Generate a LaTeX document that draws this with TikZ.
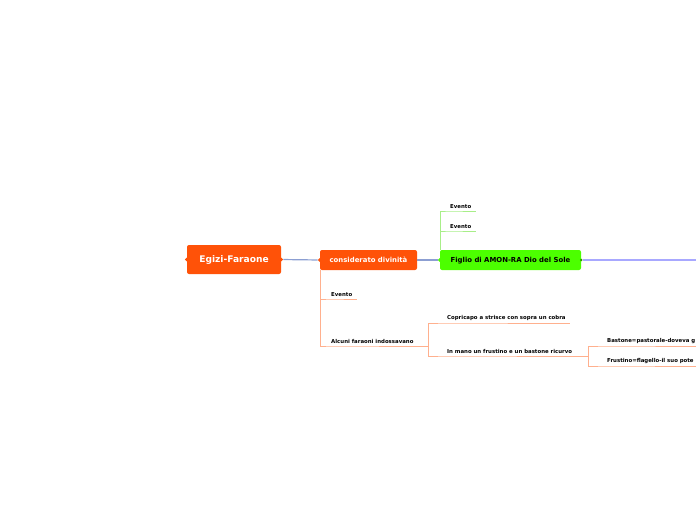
\documentclass[tikz,border=0pt]{standalone}
\usepackage{fontspec}
\setmainfont{DejaVu Sans}
\usetikzlibrary{shapes.geometric}
\definecolor{faraone}{HTML}{FF5208}
\definecolor{amon}{HTML}{4CFF00}
\definecolor{linkblue}{HTML}{8C9FD2}
\definecolor{lavender}{HTML}{A8A8FF}
\definecolor{salmon}{HTML}{FFB08E}
\definecolor{lightgreen}{HTML}{A8EE88}
\begin{document}
\begin{tikzpicture}[x=1pt,y=-1pt,
    root/.style={fill=faraone,rounded corners=2pt,text=white,text depth=0pt,
      font=\bfseries\fontsize{9.1}{10}\selectfont,minimum width=94pt,minimum height=29pt},
    main/.style={fill=faraone,rounded corners=2pt,text=white,text depth=0pt,
      font=\bfseries\fontsize{6.9}{8}\selectfont,minimum height=20pt},
    topic/.style={font=\bfseries\fontsize{5.4}{6}\selectfont,anchor=south west,
      inner xsep=0pt,inner ysep=2.2pt},
    notch/.style={diamond,inner sep=0pt,minimum size=4pt},
    link/.style={draw=linkblue,line width=1.2pt},
    oline/.style={draw=salmon,line width=0.8pt},
    gline/.style={draw=lightgreen,line width=0.8pt}]
    \clip (0,0) rectangle (696,520);
    \node[root] (egizi) at (234,259.5) {Egizi-Faraone};
    \node[main,minimum width=97pt] (divin) at (368.5,260) {considerato divinità};
    \node[main,fill=amon,text=black,minimum width=141pt] (figlio) at (510.5,260) {Figlio di AMON-RA Dio del Sole};
    \node[notch,fill=faraone] (n1) at (egizi.west) {};
    \node[notch,fill=faraone] (n2) at (egizi.east) {};
    \node[notch,fill=faraone] (n3) at (divin.west) {};
    \node[notch,fill=amon] (n4) at (figlio.west) {};
    \node[notch,fill=amon!60!black,minimum size=3pt] (n5) at (figlio.east) {};
    % sopra
    \node[topic] (ev1) at (450,211) {Evento};
    \node[topic] (ev2) at (450,231) {Evento};
    % sotto
    \node[topic] (ev3) at (331,299) {Evento};
    \node[topic] (alcuni) at (331,346) {Alcuni faraoni indossavano};
    \node[topic] (copri) at (447,323) {Copricapo a strisce con sopra un cobra};
    \node[topic] (mano) at (447,356) {In mano un frustino e un bastone ricurvo};
    \node[topic] (bast) at (607,346) {Bastone=pastorale-doveva g};
    \node[topic] (frus) at (607,366) {Frustino=flagello-il suo pote};
    \coordinate (out) at (700,260);
    \coordinate (j2) at (428,346);
    \coordinate (j3) at (588,356);
    \draw[link] (n2) -- (n3);
    \draw[link] (divin) -- (n4);
    \draw[link,draw=lavender] (n5) -- (out);
    \draw[gline] ([xshift=1pt]figlio.north west) |- (ev2.south west) -- ([xshift=5pt]ev2.south east);
    \draw[gline] ([xshift=1pt]figlio.north west) |- (ev1.south west) -- ([xshift=5pt]ev1.south east);
    \draw[oline] ([xshift=1pt]divin.south west) |- (ev3.south west) -- ([xshift=5pt]ev3.south east);
    \draw[oline] ([xshift=1pt]divin.south west) |- (alcuni.south west) -- (j2);
    \draw[oline] (j2) |- (copri.south west) -- ([xshift=4pt]copri.south east);
    \draw[oline] (j2) |- (mano.south west) -- (j3);
    \draw[oline] (j3) |- (bast.south west) -- ([xshift=10pt]bast.south east);
    \draw[oline] (j3) |- (frus.south west) -- ([xshift=10pt]frus.south east);
\end{tikzpicture}
\end{document}
